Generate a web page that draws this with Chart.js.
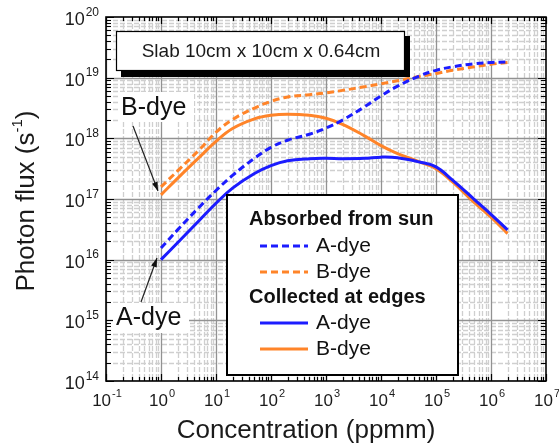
<!DOCTYPE html>
<html>
<head>
<meta charset="utf-8">
<script src="https://cdn.jsdelivr.net/npm/chart.js@4/dist/chart.umd.min.js"></script>
<style>
  html, body { margin: 0; padding: 0; background: #ffffff; }
  canvas { display: block; }
</style>
</head>
<body>
<canvas id="chart" width="559" height="448"></canvas>
<script>
// Dye concentration (ppmm)
const concentration = [1, 2, 5, 10, 20, 50, 100, 200, 500, 1e3, 2e3, 5e3, 1e4, 2e4, 5e4, 1e5, 2e5, 5e5, 1e6, 2e6];

// Photon flux (s^-1) absorbed from the sun
const absorbedA = [1.55e16, 3.1e16, 7.4e16, 1.38e17, 2.45e17, 4.68e17, 7.1e17, 9.3e17, 1.17e18, 1.48e18,
                   2.0e18, 3.3e18, 5.0e18, 7.24e18, 1.07e19, 1.32e19, 1.51e19, 1.7e19, 1.78e19, 1.82e19];
const absorbedB = [1.58e17, 2.9e17, 6.5e17, 1.26e18, 2.04e18, 3.16e18, 4.07e18, 4.79e18, 5.25e18, 5.62e18,
                   6.17e18, 7.08e18, 7.94e18, 8.9e18, 1.05e19, 1.17e19, 1.32e19, 1.51e19, 1.66e19, 1.78e19];

// Photon flux (s^-1) collected at the slab edges
const collectedA = [1.0e16, 1.9e16, 4.47e16, 8.5e16, 1.51e17, 2.63e17, 3.55e17, 4.27e17, 4.62e17, 4.68e17,
                    4.62e17, 4.68e17, 4.9e17, 4.79e17, 4.07e17, 3.39e17, 2.04e17, 9.8e16, 5.6e16, 3.1e16];
const collectedB = [1.17e17, 2.19e17, 4.9e17, 8.9e17, 1.45e18, 2.09e18, 2.4e18, 2.5e18, 2.4e18, 2.14e18,
                    1.7e18, 1.1e18, 7.59e17, 5.6e17, 4.1e17, 3.16e17, 1.91e17, 8.7e16, 5.0e16, 2.69e16];

// Decade tick labels, written as powers of ten
const xTickExponents = [-1, 0, 1, 2, 3, 4, 5, 6, 7];
const yTickExponents = [14, 15, 16, 17, 18, 19, 20];

const BLUE = '#1c1cff';
const ORANGE = '#ff8429';
const FONT = '"Liberation Sans", Arial, Helvetica, sans-serif';

const toPoints = ys => concentration.map((x, i) => ({ x: x, y: ys[i] }));

function line(label, ys, color, dashed) {
  return {
    label: label,
    data: toPoints(ys),
    borderColor: color,
    backgroundColor: color,
    borderWidth: 3,
    borderDash: dashed ? [7, 4] : [],
    pointRadius: 0,
    fill: false,
    tension: 0.4
  };
}

// power-of-ten label: "10" followed by a raised exponent
function drawPower(ctx, exp, x, y, align, baseSize, expSize) {
  const base = '10';
  const sup = String(exp);
  ctx.font = baseSize + 'px ' + FONT;
  const wb = ctx.measureText(base).width;
  ctx.font = expSize + 'px ' + FONT;
  const we = ctx.measureText(sup).width;
  const total = wb + 1 + we;
  let left = align === 'right' ? x - total : x - total / 2;
  ctx.fillStyle = '#1a1a1a';
  ctx.textAlign = 'left';
  ctx.textBaseline = 'middle';
  ctx.font = baseSize + 'px ' + FONT;
  ctx.fillText(base, left, y);
  ctx.font = expSize + 'px ' + FONT;
  ctx.fillText(sup, left + wb + 1, y - baseSize * 0.42);
}

const gridPlugin = {
  id: 'logGrid',
  beforeDatasetsDraw(chart) {
    const { ctx, chartArea: a, scales: { x, y } } = chart;
    ctx.save();
    ctx.beginPath();
    ctx.rect(a.left, a.top, a.right - a.left, a.bottom - a.top);
    ctx.clip();
    // minor lines first, then decades on top
    for (const pass of ['minor', 'major']) {
      ctx.lineWidth = 1.3;
      if (pass === 'minor') { ctx.strokeStyle = '#cfcfcf'; ctx.setLineDash([5, 2]); }
      else { ctx.strokeStyle = '#929292'; ctx.setLineDash([]); }
      for (let d = -1; d < 7; d++) {
        for (let m = 1; m <= 9; m++) {
          if ((m === 1) !== (pass === 'major')) continue;
          const px = Math.round(x.getPixelForValue(m * Math.pow(10, d))) + 0.5;
          ctx.beginPath(); ctx.moveTo(px, a.top); ctx.lineTo(px, a.bottom); ctx.stroke();
        }
      }
      for (let d = 14; d < 20; d++) {
        for (let m = 1; m <= 9; m++) {
          if ((m === 1) !== (pass === 'major')) continue;
          const py = Math.round(y.getPixelForValue(m * Math.pow(10, d))) + 0.5;
          ctx.beginPath(); ctx.moveTo(a.left, py); ctx.lineTo(a.right, py); ctx.stroke();
        }
      }
    }
    ctx.restore();
  },
  afterDatasetsDraw(chart) {
    const { ctx, chartArea: a, scales: { x, y } } = chart;
    ctx.save();
    ctx.setLineDash([]);

    // frame
    ctx.strokeStyle = '#000';
    ctx.lineWidth = 1.6;
    ctx.strokeRect(a.left, a.top, a.right - a.left, a.bottom - a.top);

    // inward ticks on all four sides
    ctx.lineWidth = 1.2;
    for (let d = -1; d <= 7; d++) {
      for (let m = 1; m <= 9; m++) {
        const v = m * Math.pow(10, d);
        if (v > 1e7 * 1.0001) continue;
        const px = Math.round(x.getPixelForValue(v)) + 0.5;
        const len = m === 1 ? 7 : 4;
        ctx.beginPath();
        ctx.moveTo(px, a.bottom); ctx.lineTo(px, a.bottom - len);
        ctx.moveTo(px, a.top); ctx.lineTo(px, a.top + len);
        ctx.stroke();
      }
    }
    for (let d = 14; d <= 20; d++) {
      for (let m = 1; m <= 9; m++) {
        const v = m * Math.pow(10, d);
        if (v > 1e20 * 1.0001) continue;
        const py = Math.round(y.getPixelForValue(v)) + 0.5;
        const len = m === 1 ? 8 : 5;
        ctx.beginPath();
        ctx.moveTo(a.left, py); ctx.lineTo(a.left + len, py);
        ctx.moveTo(a.right, py); ctx.lineTo(a.right - len, py);
        ctx.stroke();
      }
    }

    // tick labels
    xTickExponents.forEach(e => {
      drawPower(ctx, e, x.getPixelForValue(Math.pow(10, e)) + 1, a.bottom + 20, 'center', 17, 11);
    });
    yTickExponents.forEach(e => {
      drawPower(ctx, e, a.left - 7, y.getPixelForValue(Math.pow(10, e)) + 3, 'right', 18, 12);
    });

    // axis titles
    ctx.fillStyle = '#1a1a1a';
    ctx.font = '26px ' + FONT;
    ctx.textAlign = 'center';
    ctx.textBaseline = 'middle';
    ctx.fillText('Concentration (ppmm)', 306, 431);

    ctx.save();
    ctx.translate(27, (a.top + a.bottom) / 2 + 2);
    ctx.rotate(-Math.PI / 2);
    const t1 = 'Photon flux (s', t2 = '-1', t3 = ')';
    ctx.font = '26px ' + FONT;
    const w1 = ctx.measureText(t1).width, w3 = ctx.measureText(t3).width;
    ctx.font = '15px ' + FONT;
    const w2 = ctx.measureText(t2).width;
    let sx = -(w1 + w2 + w3) / 2;
    ctx.textAlign = 'left';
    ctx.font = '26px ' + FONT;
    ctx.fillText(t1, sx, 0);
    ctx.font = '15px ' + FONT;
    ctx.fillText(t2, sx + w1, -9);
    ctx.font = '26px ' + FONT;
    ctx.fillText(t3, sx + w1 + w2, 0);
    ctx.restore();

    // slab size box with drop shadow
    ctx.fillStyle = '#000';
    ctx.fillRect(121, 36, 289, 41);
    ctx.fillStyle = '#fff';
    ctx.fillRect(116, 31, 289, 40);
    ctx.strokeStyle = '#000';
    ctx.lineWidth = 1.2;
    ctx.strokeRect(116.5, 31.5, 288, 39);
    ctx.fillStyle = '#1a1a1a';
    ctx.font = '19px ' + FONT;
    ctx.textAlign = 'center';
    ctx.textBaseline = 'middle';
    ctx.fillText('Slab 10cm x 10cm x 0.64cm', 261, 52);

    // legend
    const ds = chart.data.datasets;
    ctx.fillStyle = '#fff';
    ctx.fillRect(227, 195, 231, 180);
    ctx.strokeStyle = '#000';
    ctx.lineWidth = 2;
    ctx.strokeRect(227, 195, 231, 180);
    const rows = [
      { head: 'Absorbed from sun', y: 219 },
      { ds: 0, text: 'A-dye', y: 246 },
      { ds: 1, text: 'B-dye', y: 272 },
      { head: 'Collected at edges', y: 297 },
      { ds: 2, text: 'A-dye', y: 323 },
      { ds: 3, text: 'B-dye', y: 349 }
    ];
    ctx.textAlign = 'left';
    ctx.textBaseline = 'middle';
    rows.forEach(r => {
      if (r.head) {
        ctx.fillStyle = '#111';
        ctx.font = 'bold 20px ' + FONT;
        ctx.fillText(r.head, 249, r.y);
      } else {
        const d = ds[r.ds];
        ctx.strokeStyle = d.borderColor;
        ctx.lineWidth = 3;
        ctx.setLineDash(d.borderDash);
        ctx.beginPath(); ctx.moveTo(260, r.y); ctx.lineTo(308, r.y); ctx.stroke();
        ctx.setLineDash([]);
        ctx.fillStyle = '#111';
        ctx.font = '21px ' + FONT;
        ctx.fillText(r.text, 316, r.y);
      }
    });

    // dye call-outs with arrows
    function arrow(x0, y0, x1, y1) {
      ctx.strokeStyle = '#222';
      ctx.fillStyle = '#111';
      ctx.lineWidth = 1.2;
      ctx.beginPath(); ctx.moveTo(x0, y0); ctx.lineTo(x1, y1); ctx.stroke();
      const ang = Math.atan2(y1 - y0, x1 - x0);
      const L = 9, W = 3;
      ctx.beginPath();
      ctx.moveTo(x1, y1);
      ctx.lineTo(x1 - L * Math.cos(ang) + W * Math.sin(ang), y1 - L * Math.sin(ang) - W * Math.cos(ang));
      ctx.lineTo(x1 - L * Math.cos(ang) - W * Math.sin(ang), y1 - L * Math.sin(ang) + W * Math.cos(ang));
      ctx.closePath();
      ctx.fill();
    }
    ctx.fillStyle = '#fff';
    ctx.fillRect(118, 92, 76, 30);
    ctx.fillRect(113, 303, 76, 30);
    ctx.fillStyle = '#111';
    ctx.font = '25px ' + FONT;
    ctx.textAlign = 'left';
    ctx.textBaseline = 'middle';
    ctx.fillText('B-dye', 121, 108);
    ctx.fillText('A-dye', 116, 318);
    arrow(133, 126, 158, 191);
    arrow(141, 302, 157, 258);

    ctx.restore();
  }
};

new Chart(document.getElementById('chart'), {
  type: 'line',
  data: {
    datasets: [
      line('Absorbed from sun, A-dye', absorbedA, BLUE, true),
      line('Absorbed from sun, B-dye', absorbedB, ORANGE, true),
      line('Collected at edges, A-dye', collectedA, BLUE, false),
      line('Collected at edges, B-dye', collectedB, ORANGE, false)
    ]
  },
  options: {
    responsive: false,
    animation: false,
    devicePixelRatio: 1,
    layout: { padding: { left: 0, top: 17, right: 13, bottom: 0 } },
    plugins: { legend: { display: false }, tooltip: { enabled: false } },
    scales: {
      x: {
        type: 'logarithmic', min: 0.1, max: 1e7,
        ticks: { display: false }, grid: { display: false }, border: { display: false },
        afterFit(s) { s.height = 67; }
      },
      y: {
        type: 'logarithmic', min: 1e14, max: 1e20,
        ticks: { display: false }, grid: { display: false }, border: { display: false },
        afterFit(s) { s.width = 106; }
      }
    }
  },
  plugins: [gridPlugin]
});
</script>
</body>
</html>
